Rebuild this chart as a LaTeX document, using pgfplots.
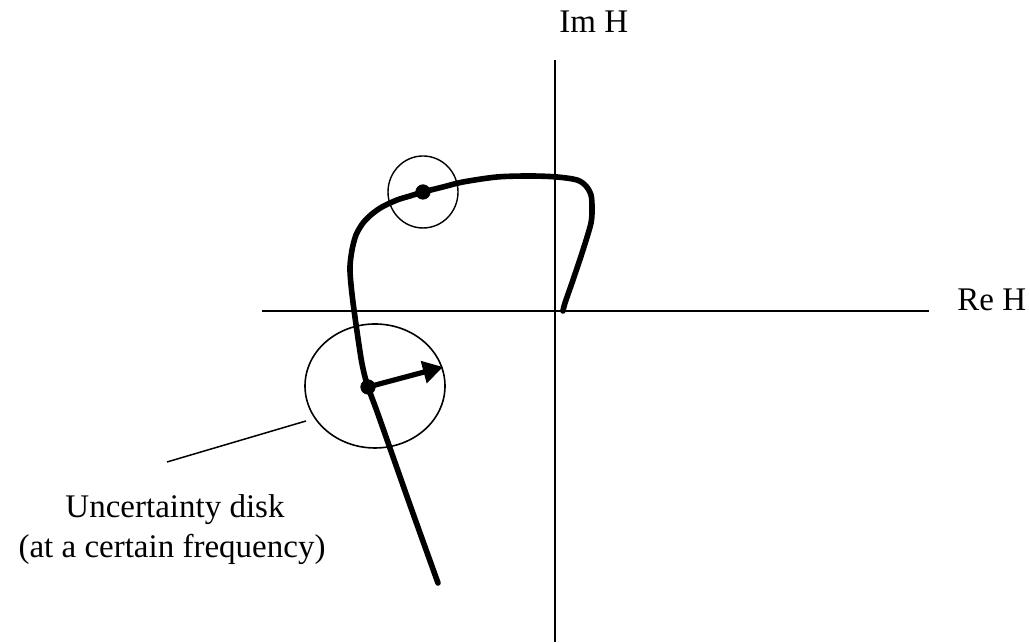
\documentclass[border=0pt]{standalone}
\usepackage{pgfplots}
\pgfplotsset{compat=1.18}
\usepackage{fontspec}
\setmainfont{Liberation Serif}
\usetikzlibrary{arrows.meta,shapes.geometric}

\begin{document}
\begin{tikzpicture}
\begin{axis}[
  width=515pt, height=321pt, scale only axis,
  xmin=-5.55, xmax=4.75, ymin=-3.31, ymax=3.11,
  hide axis, clip=false,
]
% picture frame
\path (rel axis cs:0,0) (rel axis cs:1,1);

% real and imaginary axes
\draw[line width=0.85pt] (axis cs:-2.93,0) -- (axis cs:3.74,0);
\draw[line width=0.85pt] (axis cs:0,2.51) -- (axis cs:0,-3.31);
\node[anchor=base west, font=\fontsize{16.5}{20}\selectfont, inner sep=0pt] at (axis cs:0.04,2.78) {Im H};
\node[anchor=base west, font=\fontsize{16.5}{20}\selectfont, inner sep=0pt] at (axis cs:4.02,0) {Re H};

% nominal frequency response H(jw)
\addplot[line width=2.8pt, smooth, tension=0.5, line cap=round, line join=round] coordinates {
  (-1.17,-2.72) (-1.45,-1.94) (-1.76,-1.06) (-1.83,-0.87) (-1.87,-0.76)
  (-1.905,-0.64) (-1.935,-0.50) (-1.96,-0.34) (-1.985,-0.17) (-2.01,0.01)
  (-2.03,0.17) (-2.045,0.32) (-2.05,0.45)
  (-2.03,0.61) (-1.99,0.76) (-1.92,0.88) (-1.83,0.97) (-1.73,1.04)
  (-1.58,1.11) (-1.45,1.15) (-1.32,1.19) (-1.12,1.24) (-0.92,1.29)
  (-0.58,1.34) (-0.25,1.35) (0.02,1.34) (0.22,1.31) (0.31,1.25)
  (0.36,1.16) (0.37,1.04) (0.36,0.88) (0.28,0.61) (0.18,0.31)
  (0.10,0.08) (0.08,0.00)
};

% uncertainty disks
\node[draw, ellipse, line width=0.7pt, minimum width=35pt, minimum height=36pt, inner sep=0pt] at (axis cs:-1.32,1.19) {};
\node[draw, ellipse, line width=0.8pt, minimum width=70pt, minimum height=62pt, inner sep=0pt] at (axis cs:-1.80,-0.75) {};

% disk radius
\addplot[line width=2.6pt, -{Triangle[length=10pt,width=11pt]}] coordinates {(-1.87,-0.76) (-1.12,-0.56)};

% nominal points
\addplot[only marks, mark=*, mark size=3.6pt] coordinates {(-1.32,1.19) (-1.87,-0.76)};

% annotation
\draw[line width=0.75pt] (axis cs:-3.88,-1.51) -- (axis cs:-2.49,-1.10);
\node[anchor=base, font=\fontsize{16.5}{20}\selectfont, inner sep=0pt] at (axis cs:-3.80,-2.07) {Uncertainty disk};
\node[anchor=base, font=\fontsize{16.5}{20}\selectfont, inner sep=0pt] at (axis cs:-3.83,-2.47) {(at a certain frequency)};
\end{axis}
\end{tikzpicture}
\end{document}
